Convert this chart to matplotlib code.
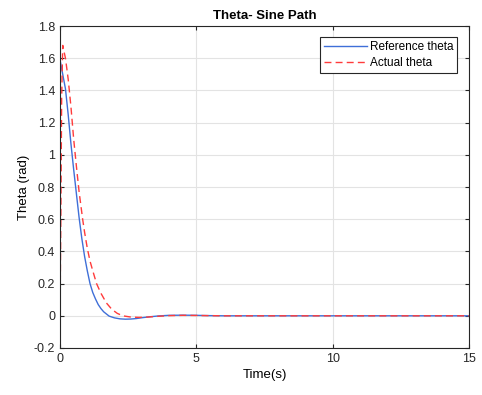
import matplotlib
matplotlib.use("Agg")
import matplotlib.pyplot as plt
from matplotlib.ticker import FixedLocator, FuncFormatter

plt.rcParams["font.family"] = ["Liberation Sans", "DejaVu Sans"]

# Reference theta
t_ref = [0, 0.1, 0.2, 0.3, 0.4, 0.5, 0.6, 0.7, 0.8, 0.9, 1.0, 1.1, 1.2, 1.3,
         1.4, 1.5, 1.6, 1.8, 2.0, 2.2, 2.4, 2.6, 2.8, 3.0, 3.3, 3.6, 4.0,
         4.5, 5.0, 5.5, 6.0, 7.0, 15.0]
theta_ref = [1.59, 1.50, 1.41, 1.25, 1.07, 0.91, 0.76, 0.61, 0.48, 0.37, 0.28,
             0.20, 0.145, 0.105, 0.07, 0.045, 0.025, -0.002, -0.013, -0.019,
             -0.021, -0.02, -0.017, -0.012, -0.006, -0.001, 0.003, 0.004,
             0.003, 0.001, 0.0, 0.0, 0.0]

# Actual theta
t_act = [0, 0.03, 0.06, 0.1, 0.2, 0.3, 0.4, 0.5, 0.6, 0.7, 0.83, 0.9, 1.0,
         1.1, 1.2, 1.34, 1.5, 1.7, 1.9, 2.1, 2.3, 2.6, 2.9, 3.2, 3.6, 4.0,
         4.5, 5.0, 6.0, 15.0]
theta_act = [0.0, 0.6, 1.35, 1.68, 1.60, 1.47, 1.30, 1.10, 0.93, 0.77, 0.60,
             0.52, 0.42, 0.34, 0.28, 0.20, 0.14, 0.08, 0.04, 0.015, 0.0,
             -0.008, -0.01, -0.008, -0.003, 0.001, 0.003, 0.002, 0.0, 0.0]

x_ticks = [0, 5, 10, 15]
y_ticks = [-0.2, 0, 0.2, 0.4, 0.6, 0.8, 1.0, 1.2, 1.4, 1.6, 1.8]

fig = plt.figure(figsize=(4.82, 3.95), dpi=100)
ax = fig.add_axes([0.1245, 0.119, 0.849, 0.815])

ax.plot(t_ref, theta_ref, color="#3f6fd8", lw=1.0, label="Reference theta")
ax.plot(t_act, theta_act, color="#ff3b3b", lw=1.0, ls=(0, (5, 3)),
        label="Actual theta")

ax.set_xlim(0, 15)
ax.set_ylim(-0.2, 1.8)
ax.xaxis.set_major_locator(FixedLocator(x_ticks))
ax.yaxis.set_major_locator(FixedLocator(y_ticks))
ax.yaxis.set_major_formatter(FuncFormatter(lambda v, p: f"{v:g}" if abs(v) > 1e-9 else "0"))

ax.grid(True, color="#e3e3e3", lw=0.8)
ax.set_axisbelow(True)
ax.tick_params(direction="in", length=3, labelsize=9, colors="#262626",
               top=True, right=True)
for s in ax.spines.values():
    s.set_color("#262626")
    s.set_linewidth(0.8)

ax.set_xlabel("Time(s)", fontsize=9.5, labelpad=3)
ax.set_ylabel("Theta (rad)", fontsize=9.5, labelpad=3)
ax.set_title("Theta- Sine Path", fontsize=9.5, fontweight="bold", pad=5)

leg = ax.legend(loc="upper right", fontsize=8.5, fancybox=False, framealpha=1,
                edgecolor="#262626", handlelength=3.6, borderpad=0.35,
                labelspacing=0.35, handletextpad=0.25,
                bbox_to_anchor=(0.985, 0.985))
leg.get_frame().set_linewidth(0.8)

fig.savefig("out.png", dpi=100)
